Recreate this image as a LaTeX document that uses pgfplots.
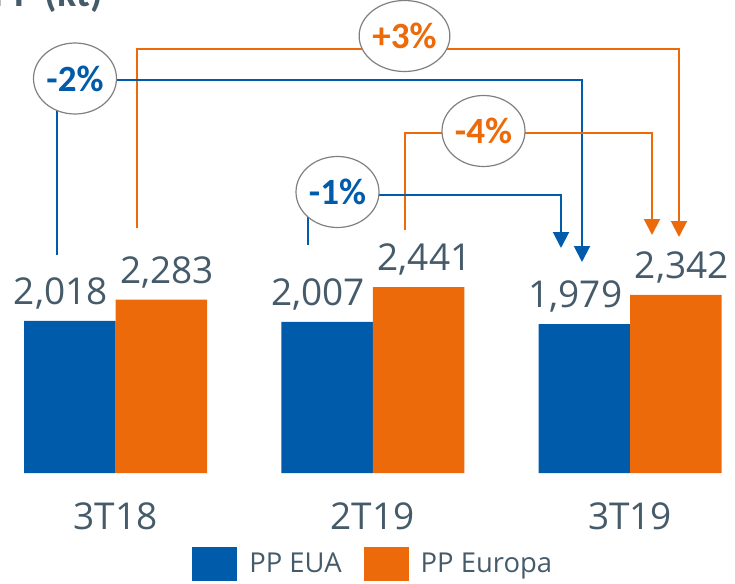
\documentclass[border=0pt]{standalone}
\usepackage{fontspec}
\setmainfont{Open Sans}
\newfontfamily\carlito{Carlito}
\usepackage{pgfplots}
\pgfplotsset{compat=1.18}
\usetikzlibrary{arrows.meta,shapes.geometric}
\definecolor{ppblue}{HTML}{005BAA}
\definecolor{pporange}{HTML}{ED6A0B}
\definecolor{txtgray}{HTML}{465B6A}
\definecolor{ringgray}{HTML}{808080}

\pgfplotstableread{
x  eua   europa
0  2018  2283
1  2007  2441
2  1979  2342
}\ppdata

\begin{document}
\begin{tikzpicture}
\begin{axis}[
  at={(0pt,-236.5pt)}, anchor=south west,
  scale only axis, width=367.5pt, height=236.5pt,
  xmin=-0.449, xmax=2.408, ymin=119, ymax=6024,
  ybar=0pt, bar width=45.75pt,
  axis x line*=bottom, axis y line=none,
  x axis line style={draw=none},
  major tick length=0pt,
  xtick={0,1,2}, xticklabels={3T18,2T19,3T19},
  xticklabel style={font=\fontsize{18.5}{22}\selectfont, text=txtgray,
    anchor=base, inner sep=0pt, yshift=-28pt},
  nodes near coords={\pgfmathprintnumber[assume math mode=true,fixed,precision=0,1000 sep={,}]{\pgfplotspointmeta}},
  nodes near coords style={font=\fontsize{18.5}{22}\selectfont, text=txtgray,
    anchor=base, inner sep=0pt, yshift=8.25pt},
  legend style={at={(axis description cs:0.2612,-0.1924)}, anchor=west,
    draw=none, fill=none, inner sep=0pt,
    font=\fontsize{13.7}{16}\selectfont, text=txtgray,
    nodes={inner sep=0pt},
    /tikz/every odd column/.append style={column sep=6pt},
    /tikz/every even column/.append style={column sep=11pt}},
  legend columns=2,
  legend cell align=left,
  legend image code/.code={\fill[#1] (0pt,-8.5pt) rectangle (22.5pt,8.5pt);},
]
\addplot[fill=ppblue, draw=none, every node near coord/.append style={xshift=-4.5pt}]
  table[x=x, y=eua] {\ppdata};
\addplot[fill=pporange, draw=none, every node near coord/.append style={xshift=3pt}]
  table[x=x, y=europa] {\ppdata};
\legend{PP EUA, PP Europa}
\end{axis}

\begin{scope}[x=0.5pt, y=-0.5pt]
  % title, cut at the top edge
  \begin{scope}
    \clip (0,0) rectangle (735,584);
    \node[anchor=base east, inner sep=0pt, text=txtgray,
      font=\carlito\bfseries\fontsize{20}{24}\selectfont] at (103,6) {PP (kt)};
  \end{scope}
  % connectors
  \tikzset{arr/.style={-{Triangle[width=8pt,length=8pt]}, line width=1pt}}
  \draw[arr, pporange] (137,228) |- (679,49) -- (679,237);
  \draw[arr, ppblue] (57,255) |- (582,80) -- (582,262);
  \draw[arr, pporange] (405,230) |- (652,133) -- (652,235);
  \draw[arr, ppblue] (308,245) |- (561,195) -- (561,248);
  % bubbles
  \tikzset{bub/.style={ellipse, draw=ringgray, fill=white, line width=0.6pt,
    minimum width=41.5pt, minimum height=35.5pt, inner sep=0pt,
    font=\carlito\bfseries\fontsize{18.5}{22}\selectfont}}
  \node[bub, text=ppblue] at (75,78.5) {-2\%};
  \node[bub, text=pporange] at (404.5,36) {+3\%};
  \node[bub, text=pporange] at (483.5,131) {-4\%};
  \node[bub, text=ppblue] at (337.5,192) {-1\%};
  \pgfresetboundingbox
  \path[use as bounding box] (0,0) rectangle (735,584);
\end{scope}
\end{tikzpicture}
\end{document}
